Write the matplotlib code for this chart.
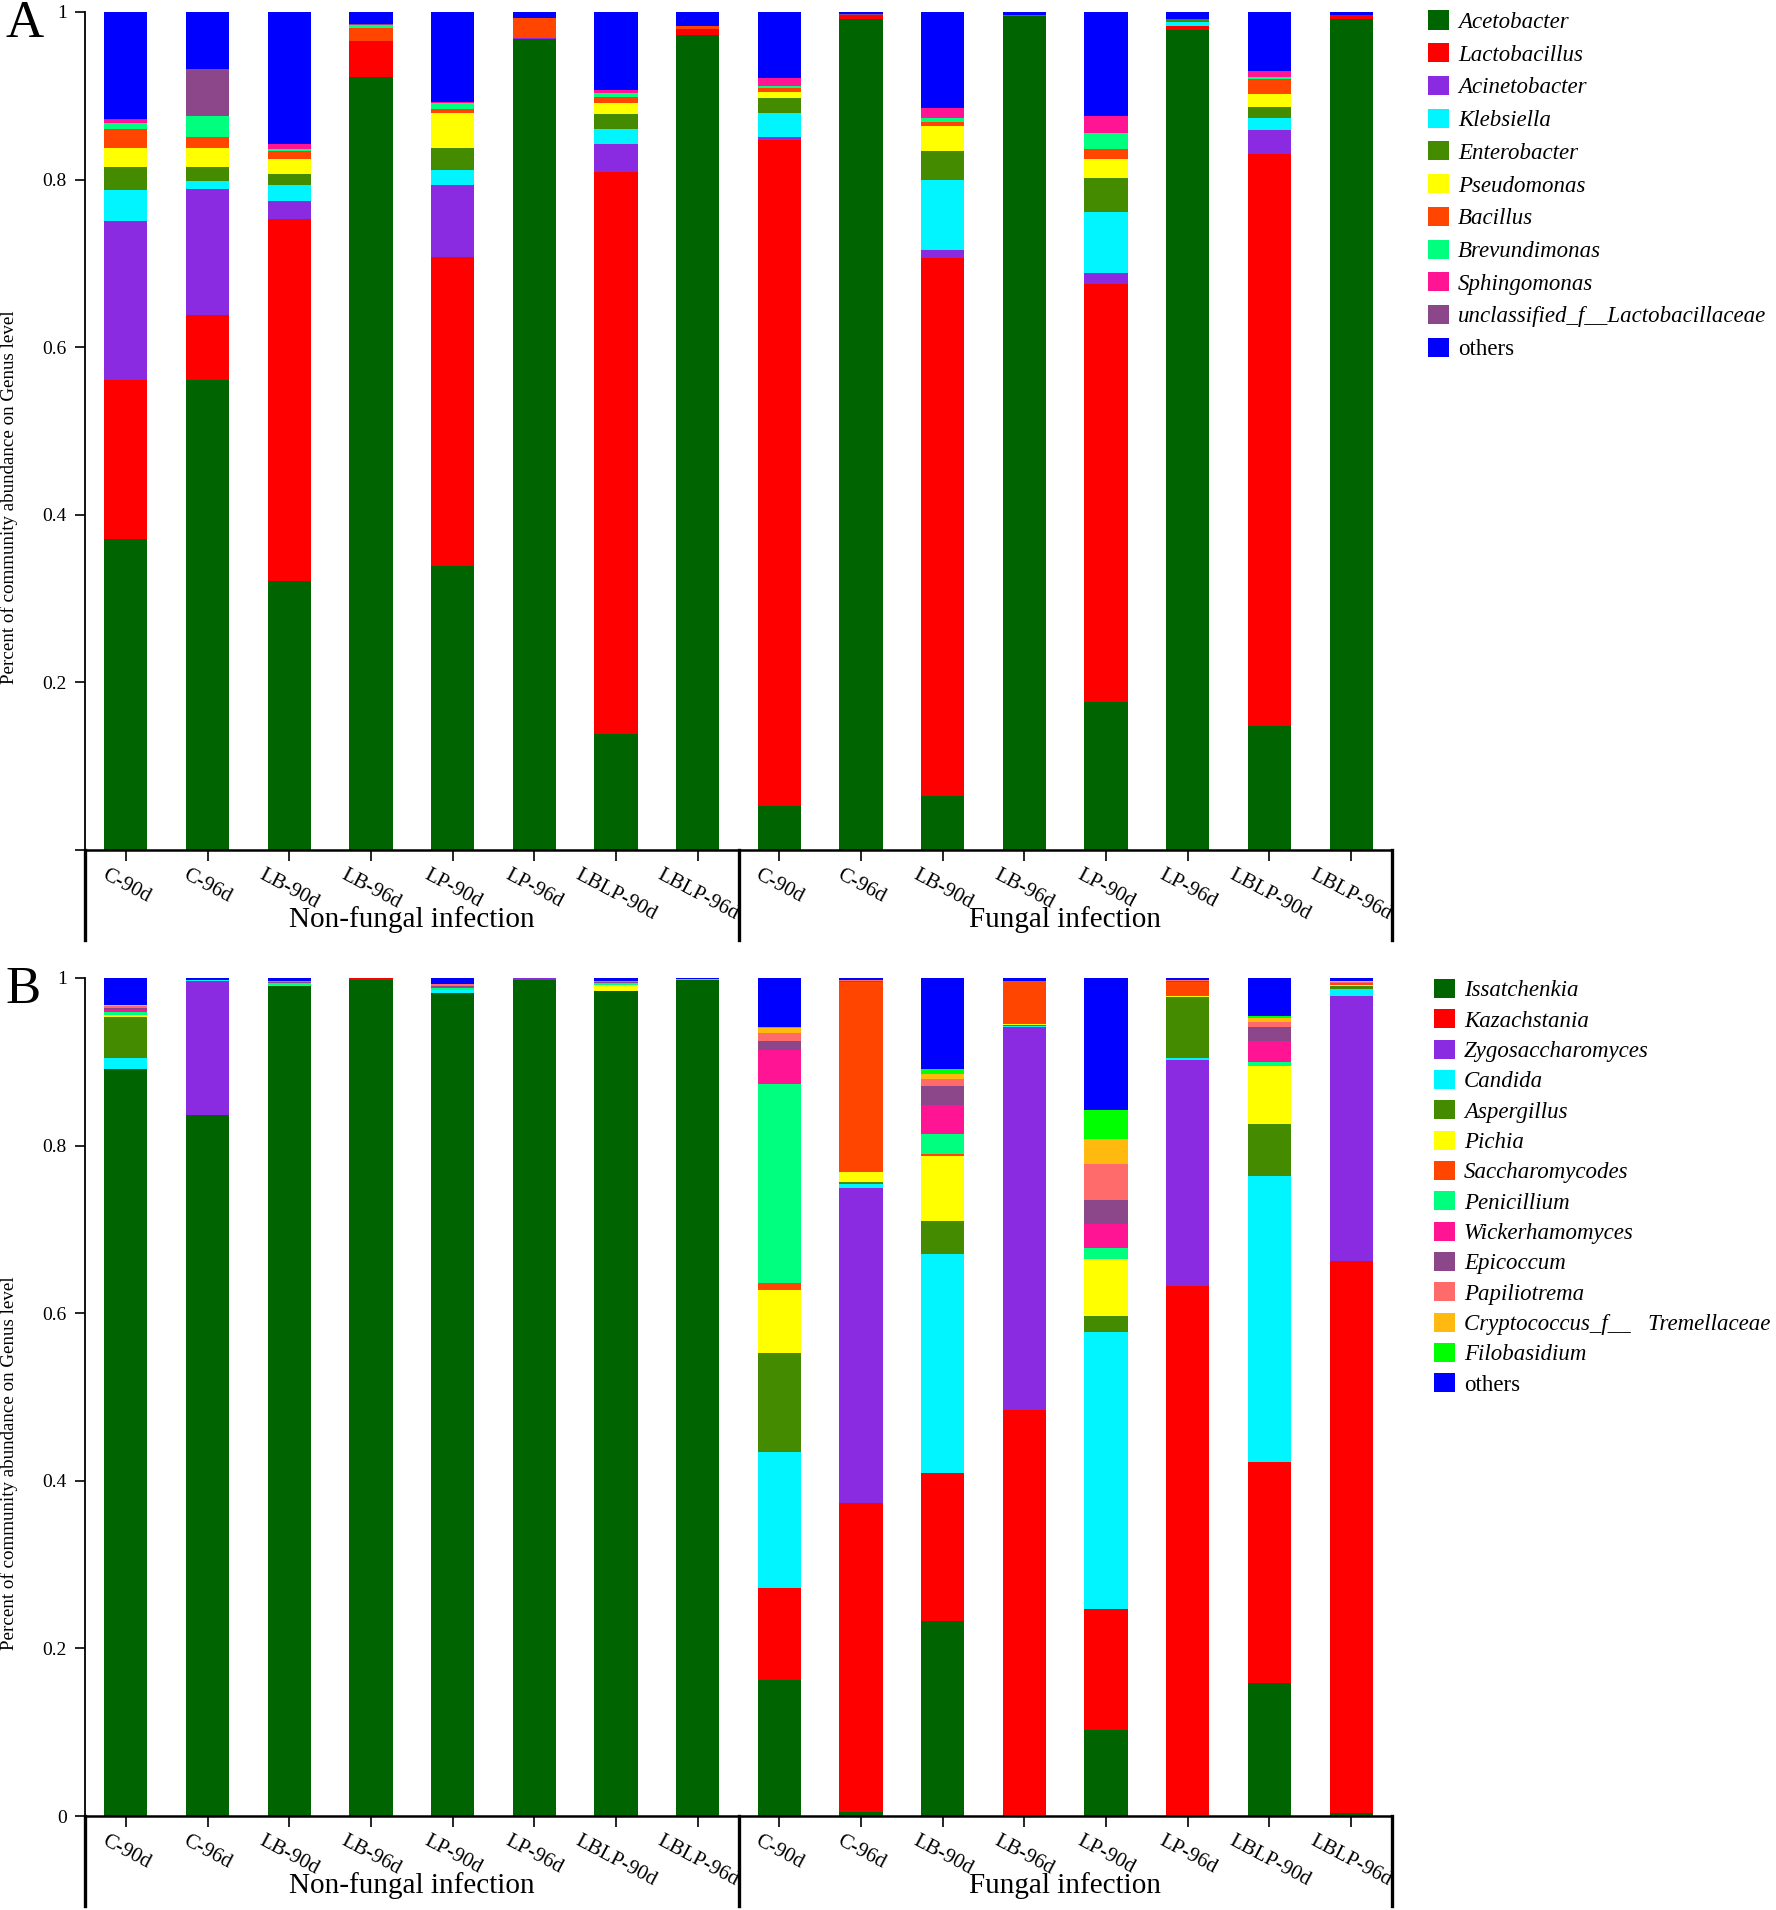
import numpy as np
import matplotlib
matplotlib.use("Agg")
import matplotlib.pyplot as plt
from matplotlib.patches import Patch

plt.rcParams["font.family"] = ["Liberation Serif", "DejaVu Serif"]

samples = ["C-90d", "C-96d", "LB-90d", "LB-96d", "LP-90d", "LP-96d", "LBLP-90d", "LBLP-96d",
           "C-90d", "C-96d", "LB-90d", "LB-96d", "LP-90d", "LP-96d", "LBLP-90d", "LBLP-96d"]
groups = ["Non-fungal infection", "Fungal infection"]

# Panel A - bacteria
acetobacter = [0.371, 0.561, 0.321, 0.923, 0.339, 0.968, 0.138, 0.973, 0.052, 0.992, 0.065, 0.995, 0.177, 0.979, 0.148, 0.992]
lactobacillus = [0.190, 0.077, 0.432, 0.042, 0.369, 0.000, 0.671, 0.007, 0.795, 0.004, 0.641, 0.000, 0.499, 0.004, 0.683, 0.005]
acinetobacter = [0.190, 0.151, 0.022, 0.000, 0.086, 0.001, 0.034, 0.000, 0.004, 0.001, 0.010, 0.000, 0.012, 0.000, 0.028, 0.000]
klebsiella = [0.037, 0.009, 0.019, 0.000, 0.018, 0.000, 0.017, 0.000, 0.028, 0.000, 0.084, 0.000, 0.073, 0.005, 0.015, 0.000]
enterobacter = [0.027, 0.017, 0.013, 0.000, 0.026, 0.000, 0.018, 0.000, 0.018, 0.000, 0.034, 0.000, 0.041, 0.003, 0.013, 0.000]
pseudomonas = [0.023, 0.023, 0.017, 0.000, 0.041, 0.000, 0.013, 0.000, 0.008, 0.000, 0.030, 0.000, 0.022, 0.000, 0.015, 0.000]
bacillus = [0.022, 0.013, 0.010, 0.016, 0.005, 0.024, 0.008, 0.003, 0.004, 0.000, 0.005, 0.000, 0.012, 0.000, 0.018, 0.000]
brevundimonas = [0.008, 0.025, 0.003, 0.003, 0.007, 0.000, 0.004, 0.000, 0.003, 0.000, 0.005, 0.000, 0.020, 0.000, 0.002, 0.000]
sphingomonas = [0.003, 0.000, 0.005, 0.000, 0.002, 0.000, 0.004, 0.000, 0.009, 0.000, 0.012, 0.000, 0.020, 0.000, 0.008, 0.000]
unclassified_lacto = [0.001, 0.056, 0.000, 0.002, 0.000, 0.000, 0.000, 0.000, 0.000, 0.001, 0.000, 0.002, 0.000, 0.001, 0.000, 0.000]
others_a = [0.128, 0.068, 0.158, 0.014, 0.107, 0.007, 0.093, 0.017, 0.079, 0.002, 0.114, 0.003, 0.124, 0.008, 0.070, 0.003]

# Panel B - fungi
issatchenkia = [0.892, 0.836, 0.991, 0.998, 0.982, 0.998, 0.984, 0.998, 0.162, 0.005, 0.233, 0.000, 0.103, 0.000, 0.159, 0.003]
kazachstania = [0.000, 0.000, 0.000, 0.002, 0.000, 0.000, 0.000, 0.000, 0.110, 0.369, 0.176, 0.485, 0.144, 0.632, 0.263, 0.659]
zygosaccharomyces = [0.000, 0.161, 0.000, 0.000, 0.000, 0.002, 0.000, 0.000, 0.000, 0.375, 0.000, 0.456, 0.000, 0.270, 0.000, 0.317]
candida = [0.013, 0.001, 0.001, 0.000, 0.004, 0.000, 0.000, 0.001, 0.162, 0.005, 0.262, 0.002, 0.330, 0.002, 0.342, 0.008]
aspergillus = [0.049, 0.000, 0.000, 0.000, 0.000, 0.000, 0.001, 0.000, 0.118, 0.002, 0.039, 0.001, 0.020, 0.073, 0.062, 0.003]
pichia = [0.002, 0.000, 0.000, 0.000, 0.000, 0.000, 0.007, 0.000, 0.076, 0.012, 0.078, 0.001, 0.068, 0.002, 0.069, 0.002]
saccharomycodes = [0.000, 0.000, 0.000, 0.000, 0.000, 0.000, 0.000, 0.000, 0.008, 0.227, 0.002, 0.052, 0.000, 0.016, 0.000, 0.002]
penicillium = [0.003, 0.000, 0.002, 0.000, 0.002, 0.000, 0.002, 0.000, 0.237, 0.000, 0.024, 0.000, 0.013, 0.000, 0.005, 0.000]
wickerhamomyces = [0.003, 0.000, 0.000, 0.000, 0.001, 0.000, 0.000, 0.000, 0.041, 0.000, 0.034, 0.000, 0.028, 0.000, 0.025, 0.000]
epicoccum = [0.002, 0.000, 0.001, 0.000, 0.002, 0.000, 0.001, 0.000, 0.011, 0.001, 0.023, 0.000, 0.029, 0.001, 0.016, 0.000]
papiliotrema = [0.002, 0.000, 0.001, 0.000, 0.002, 0.000, 0.001, 0.000, 0.009, 0.002, 0.009, 0.000, 0.043, 0.002, 0.006, 0.001]
cryptococcus = [0.002, 0.000, 0.000, 0.000, 0.000, 0.000, 0.000, 0.000, 0.006, 0.000, 0.006, 0.000, 0.030, 0.000, 0.005, 0.001]
filobasidium = [0.000, 0.000, 0.000, 0.000, 0.000, 0.000, 0.000, 0.000, 0.001, 0.000, 0.006, 0.000, 0.035, 0.000, 0.003, 0.001]
others_b = [0.032, 0.002, 0.004, 0.000, 0.007, 0.000, 0.004, 0.001, 0.059, 0.002, 0.108, 0.003, 0.157, 0.002, 0.045, 0.003]

bact = [
    ("Acetobacter", acetobacter, "#006400"),
    ("Lactobacillus", lactobacillus, "#FF0000"),
    ("Acinetobacter", acinetobacter, "#8A2BE2"),
    ("Klebsiella", klebsiella, "#00F5FF"),
    ("Enterobacter", enterobacter, "#458B00"),
    ("Pseudomonas", pseudomonas, "#FFFF00"),
    ("Bacillus", bacillus, "#FF4500"),
    ("Brevundimonas", brevundimonas, "#00FF7F"),
    ("Sphingomonas", sphingomonas, "#FF1493"),
    ("unclassified_f__Lactobacillaceae", unclassified_lacto, "#8B4789"),
    ("others", others_a, "#0000FF"),
]
fungi = [
    ("Issatchenkia", issatchenkia, "#006400"),
    ("Kazachstania", kazachstania, "#FF0000"),
    ("Zygosaccharomyces", zygosaccharomyces, "#8A2BE2"),
    ("Candida", candida, "#00F5FF"),
    ("Aspergillus", aspergillus, "#458B00"),
    ("Pichia", pichia, "#FFFF00"),
    ("Saccharomycodes", saccharomycodes, "#FF4500"),
    ("Penicillium", penicillium, "#00FF7F"),
    ("Wickerhamomyces", wickerhamomyces, "#FF1493"),
    ("Epicoccum", epicoccum, "#8B4789"),
    ("Papiliotrema", papiliotrema, "#FF6A6A"),
    ("Cryptococcus_f__   Tremellaceae", cryptococcus, "#FFB90F"),
    ("Filobasidium", filobasidium, "#00FF00"),
    ("others", others_b, "#0000FF"),
]

W, H = 1776, 1910
fig = plt.figure(figsize=(W / 100, H / 100), dpi=100)


def panel(top_px, series, lettre, show_zero, leg_x, leg_top, leg_spacing):
    bottom_px = top_px + 838
    ax = fig.add_axes([85 / W, 1 - bottom_px / H, (1392 - 85) / W, 838 / H])
    x = np.arange(len(samples))
    base = np.zeros(len(samples))
    handles = []
    for nom, vals, col in series:
        ax.bar(x, vals, bottom=base, width=0.53, color=col, linewidth=0)
        base += np.array(vals)
        style = "normal" if nom == "others" else "italic"
        handles.append((Patch(facecolor=col), nom, style))

    ax.set_xlim(-0.5, 15.5)
    ax.set_ylim(0, 1)
    for s in ["top", "right"]:
        ax.spines[s].set_visible(False)
    ax.spines["left"].set_linewidth(1.3)
    ax.spines["bottom"].set_linewidth(1.8)

    ax.set_yticks([0, 0.2, 0.4, 0.6, 0.8, 1])
    ax.set_yticklabels(["0" if show_zero else "", "0.2", "0.4", "0.6", "0.8", "1"], fontsize=14)
    ax.tick_params(axis="y", length=7, width=1.2, pad=6)
    ax.set_xticks(x)
    ax.set_xticklabels(samples, rotation=-28, ha="center", va="top", fontsize=15)
    ax.tick_params(axis="x", length=8, width=1.2, pad=3)

    ax.set_ylabel("Percent of community abundance on Genus level", fontsize=13.7)
    ax.yaxis.set_label_coords(-0.051, 0.421)

    # accolades des groupes sous l'axe
    tr = ax.get_xaxis_transform()
    for xv in [-0.5, 7.5, 15.5]:
        ax.plot([xv, xv], [0, -0.107], transform=tr, color="black", lw=2.4, clip_on=False)
    ax.text(3.5, -0.083, groups[0], transform=tr, ha="center", va="center", fontsize=21)
    ax.text(11.5, -0.083, groups[1], transform=tr, ha="center", va="center", fontsize=21)

    fig.text(5 / W, 1 - (top_px + 12) / H, lettre, fontsize=38, ha="left", va="center")

    leg = fig.legend([h[0] for h in handles], [h[1] for h in handles],
                     loc="upper left", bbox_to_anchor=(leg_x / W, 1 - leg_top / H),
                     frameon=False, fontsize=16.5, handlelength=0.9, handleheight=0.9,
                     handletextpad=0.4, labelspacing=leg_spacing, borderaxespad=0, borderpad=0)
    for txt, h in zip(leg.get_texts(), handles):
        txt.set_style(h[2])
    return ax


panel(12, bact, "A", False, 1428, 10.5, 0.45)
panel(978, fungi, "B", True, 1434, 979, 0.345)

fig.savefig("out.png", dpi=100)
